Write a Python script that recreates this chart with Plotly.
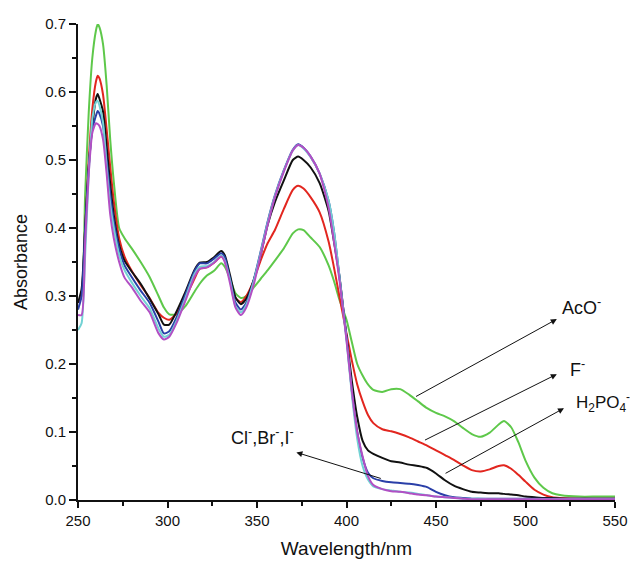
import plotly.graph_objects as go

wavelength = [250, 252, 254, 256, 258, 260, 261, 262, 264, 266, 268, 270, 273, 276, 280, 285, 290, 295, 298, 301,
              305, 310, 315, 318, 322, 326, 330, 332, 335, 338, 341, 344, 348, 352, 356, 360, 365, 370, 373, 376,
              380, 385, 390, 393, 396, 400, 403, 406, 409, 412, 415, 420, 425, 430, 435, 440, 445, 450, 455, 460,
              465, 470, 475, 480, 485, 488, 492, 496, 500, 505, 510, 515, 520, 530, 540, 550]

aco = [0.29, 0.30, 0.45, 0.57, 0.65, 0.69, 0.70, 0.695, 0.67, 0.61, 0.53, 0.468, 0.40, 0.385, 0.37, 0.35, 0.328, 0.30, 0.283, 0.273,
       0.273, 0.285, 0.306, 0.318, 0.33, 0.337, 0.348, 0.343, 0.325, 0.304, 0.297, 0.300, 0.312, 0.325, 0.338, 0.352, 0.37, 0.392, 0.398, 0.397,
       0.386, 0.372, 0.345, 0.322, 0.295, 0.265, 0.232, 0.20, 0.183, 0.170, 0.162, 0.159, 0.163, 0.163, 0.155, 0.145, 0.135, 0.128, 0.123, 0.116,
       0.106, 0.097, 0.093, 0.099, 0.111, 0.116, 0.107, 0.085, 0.058, 0.033, 0.018, 0.010, 0.007, 0.005, 0.005, 0.005]

fluoride = [0.29, 0.30, 0.40, 0.50, 0.575, 0.615, 0.624, 0.62, 0.596, 0.545, 0.49, 0.439, 0.385, 0.358, 0.337, 0.316, 0.297, 0.275, 0.268, 0.265,
            0.274, 0.297, 0.325, 0.340, 0.342, 0.349, 0.358, 0.352, 0.325, 0.297, 0.291, 0.300, 0.322, 0.352, 0.378, 0.397, 0.428, 0.456, 0.462, 0.458,
            0.445, 0.423, 0.38, 0.342, 0.30, 0.245, 0.205, 0.17, 0.145, 0.125, 0.113, 0.104, 0.101, 0.097, 0.092, 0.086, 0.080, 0.073, 0.066, 0.059,
            0.051, 0.044, 0.042, 0.045, 0.050, 0.051, 0.046, 0.037, 0.027, 0.015, 0.008, 0.004, 0.003, 0.002, 0.002, 0.002]

h2po4 = [0.29, 0.31, 0.40, 0.49, 0.55, 0.59, 0.597, 0.59, 0.571, 0.52, 0.465, 0.419, 0.375, 0.352, 0.336, 0.318, 0.296, 0.273, 0.258, 0.258,
         0.277, 0.306, 0.338, 0.349, 0.350, 0.357, 0.366, 0.36, 0.33, 0.298, 0.288, 0.296, 0.322, 0.36, 0.405, 0.438, 0.47, 0.500, 0.505, 0.50,
         0.489, 0.466, 0.425, 0.38, 0.33, 0.24, 0.175, 0.122, 0.087, 0.073, 0.068, 0.062, 0.057, 0.055, 0.052, 0.050, 0.047, 0.039, 0.029, 0.021,
         0.016, 0.012, 0.011, 0.010, 0.010, 0.009, 0.008, 0.007, 0.005, 0.004, 0.003, 0.003, 0.002, 0.002, 0.002, 0.002]

chloride = [0.28, 0.30, 0.40, 0.49, 0.545, 0.565, 0.572, 0.568, 0.55, 0.50, 0.45, 0.41, 0.37, 0.345, 0.328, 0.308, 0.29, 0.262, 0.245, 0.248,
            0.268, 0.302, 0.336, 0.348, 0.348, 0.355, 0.363, 0.357, 0.325, 0.29, 0.280, 0.290, 0.322, 0.365, 0.41, 0.448, 0.485, 0.515, 0.523, 0.518,
            0.505, 0.48, 0.44, 0.395, 0.33, 0.24, 0.16, 0.10, 0.062, 0.040, 0.032, 0.028, 0.026, 0.025, 0.024, 0.022, 0.019, 0.012, 0.007, 0.004,
            0.003, 0.002, 0.002, 0.002, 0.002, 0.002, 0.002, 0.002, 0.002, 0.002, 0.002, 0.002, 0.002, 0.002, 0.002, 0.002]

bromide = [0.25, 0.26, 0.36, 0.48, 0.56, 0.585, 0.587, 0.58, 0.555, 0.49, 0.435, 0.40, 0.36, 0.338, 0.32, 0.30, 0.282, 0.252, 0.24, 0.243,
           0.263, 0.297, 0.332, 0.343, 0.344, 0.35, 0.36, 0.352, 0.322, 0.285, 0.276, 0.287, 0.32, 0.363, 0.408, 0.447, 0.484, 0.514, 0.522, 0.517,
           0.504, 0.48, 0.44, 0.395, 0.33, 0.235, 0.155, 0.09, 0.05, 0.03, 0.02, 0.016, 0.014, 0.012, 0.011, 0.009, 0.007, 0.005, 0.004, 0.003,
           0.002, 0.002, 0.002, 0.001, 0.001, 0.001, 0.001, 0.001, 0.001, 0.001, 0.001, 0.001, 0.001, 0.001, 0.001, 0.001]

iodide = [0.272, 0.272, 0.38, 0.48, 0.54, 0.554, 0.553, 0.55, 0.53, 0.48, 0.42, 0.385, 0.35, 0.327, 0.313, 0.293, 0.276, 0.245, 0.236, 0.24,
          0.26, 0.293, 0.328, 0.340, 0.342, 0.349, 0.358, 0.35, 0.318, 0.283, 0.272, 0.283, 0.315, 0.36, 0.405, 0.445, 0.483, 0.514, 0.522, 0.518,
          0.505, 0.48, 0.43, 0.38, 0.325, 0.235, 0.16, 0.10, 0.064, 0.035, 0.022, 0.016, 0.013, 0.012, 0.010, 0.008, 0.007, 0.005, 0.004, 0.003,
          0.002, 0.001, 0.001, 0.001, 0.001, 0.001, 0.001, 0.001, 0.001, 0.001, 0.001, 0.001, 0.001, 0.001, 0.001, 0.001]

series = [
    ("AcO-", aco, "#5ec84a"),
    ("F-", fluoride, "#e2261f"),
    ("H2PO4-", h2po4, "#111111"),
    ("Cl-", chloride, "#2a3fa8"),
    ("Br-", bromide, "#72d2d4"),
    ("I-", iodide, "#b24fc4"),
]

# annotation labels with arrow (tail -> head) positions in data units
labels = ["AcO<sup>-</sup>", "F<sup>-</sup>", "H<sub>2</sub>PO<sub>4</sub><sup>-</sup>", "Cl<sup>-</sup>,Br<sup>-</sup>,I<sup>-</sup>"]
arrow_tail_x = [438, 443, 454.5, 420]
arrow_tail_y = [0.151, 0.087, 0.038, 0.031]
arrow_head_x = [517.5, 517.5, 521.5, 372]
arrow_head_y = [0.266, 0.185, 0.135, 0.07]
label_x = [519, 523.5, 527, 372]
label_y = [0.285, 0.194, 0.143, 0.093]
label_size = [18, 18, 17, 18]
label_anchor = ["left", "left", "left", "right"]

fig = go.Figure()
for name, vals, col in series:
    fig.add_trace(go.Scatter(x=wavelength, y=vals, mode="lines", name=name, hoverinfo="skip",
                             line=dict(color=col, width=2, shape="spline", smoothing=0.6)))

for i in range(len(labels)):
    fig.add_annotation(x=arrow_head_x[i], y=arrow_head_y[i], ax=arrow_tail_x[i], ay=arrow_tail_y[i],
                       xref="x", yref="y", axref="x", ayref="y", text="", showarrow=True,
                       arrowhead=2, arrowsize=1.2, arrowwidth=1, arrowcolor="#111111")
    fig.add_annotation(x=label_x[i], y=label_y[i], xref="x", yref="y", text=labels[i], showarrow=False,
                       xanchor=label_anchor[i], yanchor="middle",
                       font=dict(size=label_size[i], color="#111111", family="Liberation Sans, Arial, sans-serif"))

axis_font = dict(family="Liberation Sans, Arial, sans-serif", size=15, color="#111111")
fig.update_layout(
    width=630, height=561,
    margin=dict(l=78, r=15, t=24, b=61),
    paper_bgcolor="white", plot_bgcolor="white",
    showlegend=False,
    font=axis_font,
)
fig.update_xaxes(range=[250, 550], tickvals=[250, 300, 350, 400, 450, 500, 550],
                 showline=True, linecolor="#111111", linewidth=2, showgrid=False, zeroline=False,
                 ticks="outside", ticklen=6, tickwidth=1.5, tickcolor="#111111",
                 minor=dict(ticks="outside", ticklen=4, tickwidth=1.5, tickcolor="#111111", dtick=25, showgrid=False),
                 title=dict(text="Wavelength/nm", font=dict(size=19), standoff=14), automargin=False)
fig.update_yaxes(range=[0, 0.7], tickvals=[0.0, 0.1, 0.2, 0.3, 0.4, 0.5, 0.6, 0.7], tickformat=".1f",
                 showline=True, linecolor="#111111", linewidth=2, showgrid=False, zeroline=False,
                 ticks="outside", ticklen=7, tickwidth=1.5, tickcolor="#111111",
                 minor=dict(ticks="outside", ticklen=4, tickwidth=1.5, tickcolor="#111111", dtick=0.05, showgrid=False),
                 title=dict(text="Absorbance", font=dict(size=18), standoff=13), automargin=False)

# remove the default 8px page margin so the 630x561 figure fills the window exactly
fig.write_html("out.html", config={"displayModeBar": False},
               post_script="document.body.style.margin='0';document.body.style.overflow='hidden';")
